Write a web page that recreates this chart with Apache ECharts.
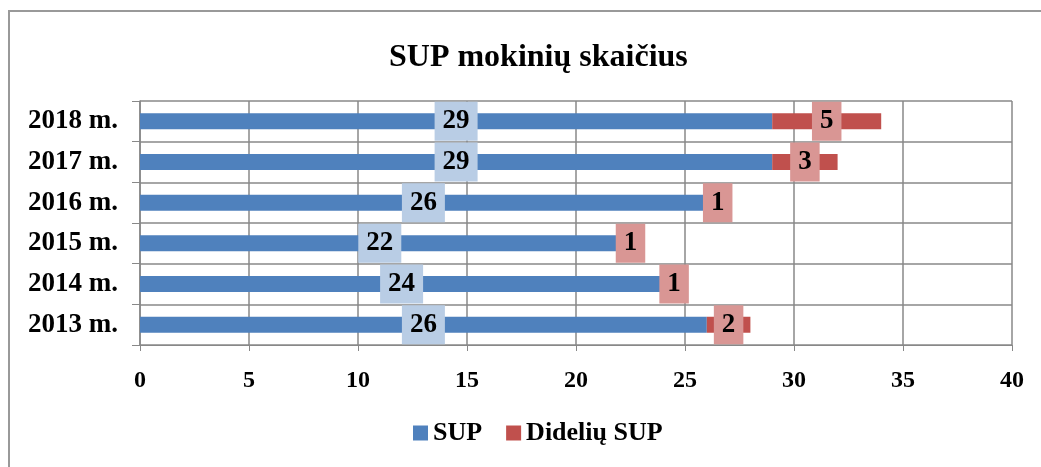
<!DOCTYPE html>
<html>
<head>
<meta charset="utf-8">
<script src="https://cdn.jsdelivr.net/npm/echarts@6/dist/echarts.min.js"></script>
<style>
  html, body { margin: 0; padding: 0; background: #fff; }
  #main { width: 1041px; height: 467px; }
</style>
</head>
<body>
<div id="main"></div>
<script>
// Chart data
const years = ["2013 m.", "2014 m.", "2015 m.", "2016 m.", "2017 m.", "2018 m."];
const sup = [26, 24, 22, 26, 29, 29];
const dideliuSup = [2, 1, 1, 1, 3, 5];
const xTicks = [0, 5, 10, 15, 20, 25, 30, 35, 40];

var myChart = echarts.init(document.getElementById("main"));

const font = "'Liberation Serif', 'Times New Roman', serif";

function labelStyle(bg) {
  return {
    show: true,
    position: "inside",
    color: "#000",
    fontFamily: font,
    fontWeight: "bold",
    fontSize: 27,
    lineHeight: 27,
    backgroundColor: bg,
    padding: [7, 8, 5, 8],
  };
}

var option = {
  animation: false,
  textStyle: { fontFamily: font },
  title: {
    text: "SUP mokinių skaičius",
    left: 384,
    top: 37,
    textStyle: {
      fontFamily: font,
      fontWeight: "bold",
      fontSize: 32,
      color: "#000",
    },
  },
  legend: {
    bottom: 16,
    left: 408,
    itemWidth: 15,
    itemHeight: 15,
    itemGap: 24,
    icon: "rect",
    textStyle: {
      fontFamily: font,
      fontWeight: "bold",
      fontSize: 26,
      color: "#000",
    },
  },
  grid: {
    left: 140,
    right: 29,
    top: 101,
    bottom: 122,
  },
  xAxis: {
    type: "value",
    min: xTicks[0],
    max: xTicks[xTicks.length - 1],
    interval: 5,
    axisLine: { show: true, lineStyle: { color: "#888" } },
    axisTick: { show: true, length: 6, lineStyle: { color: "#888" } },
    splitLine: { show: true, lineStyle: { color: "#888", width: 1.5 } },
    axisLabel: {
      color: "#000",
      fontFamily: font,
      fontWeight: "bold",
      fontSize: 24,
      margin: 24,
    },
  },
  yAxis: {
    type: "category",
    data: years,
    axisLine: { show: true, lineStyle: { color: "#888", width: 1.5 } },
    axisTick: { show: true, length: 8, lineStyle: { color: "#888" } },
    splitLine: { show: true, lineStyle: { color: "#888", width: 1.5 } },
    axisLabel: {
      color: "#000",
      fontFamily: font,
      fontWeight: "bold",
      fontSize: 27,
      margin: 22,
    },
  },
  series: [
    {
      name: "SUP",
      type: "bar",
      stack: "total",
      data: sup,
      barWidth: 16,
      itemStyle: { color: "#4f81bd" },
      label: labelStyle("#b9cde5"),
    },
    {
      name: "Didelių SUP",
      type: "bar",
      stack: "total",
      data: dideliuSup,
      barWidth: 16,
      itemStyle: { color: "#c0504d" },
      label: labelStyle("#d99694"),
    },
  ],
  graphic: [
    {
      type: "rect",
      shape: { x: 9, y: 11, width: 1100, height: 500 },
      style: { fill: "none", stroke: "#999", lineWidth: 2 },
      silent: true,
    },
  ],
};

myChart.setOption(option);
</script>
</body>
</html>
